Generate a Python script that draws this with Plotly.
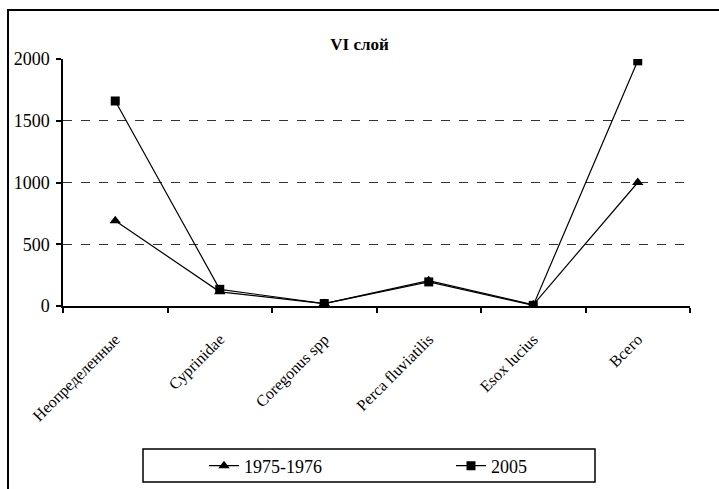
import plotly.graph_objects as go

categories = ["Неопределенные", "Cyprinidae", "Coregonus spp", "Perca fluviatilis", "Esox lucius", "Всего"]
series_1975 = [690, 115, 20, 205, 10, 1000]
series_2005 = [1660, 135, 20, 195, 5, 1985]
y_ticks = [0, 500, 1000, 1500, 2000]
grid_vals = [500, 1000, 1500]

FONT = "Liberation Serif"

fig = go.Figure()
fig.add_trace(go.Scatter(
    x=categories, y=series_1975, name="1975-1976", mode="lines+markers",
    line=dict(color="black", width=1.2), legend="legend",
    marker=dict(symbol="triangle-up", size=10, color="black"),
))
fig.add_trace(go.Scatter(
    x=categories, y=series_2005, name="2005", mode="lines+markers",
    line=dict(color="black", width=1.2), legend="legend2",
    marker=dict(symbol="square", size=9, color="black"),
))
# invisible trace to carry gridlines axis
fig.add_trace(go.Scatter(x=[categories[0]], y=[0], yaxis="y2", showlegend=False,
                         mode="markers", marker=dict(opacity=0), hoverinfo="skip"))

legend_common = dict(
    orientation="h", xref="container", yref="container", xanchor="left",
    y=1 - 466 / 489, yanchor="middle", bgcolor="rgba(0,0,0,0)",
    font=dict(family=FONT, size=18, color="black"),
)

fig.update_layout(
    width=719, height=489,
    margin=dict(l=63, r=29, t=59, b=183, autoexpand=False),
    paper_bgcolor="white", plot_bgcolor="white",
    font=dict(family=FONT, size=16, color="black"),
    title=dict(text="<b>VI слой</b>", x=0.5, xanchor="center", y=1 - 44 / 489,
               yanchor="middle", font=dict(family=FONT, size=17, color="black")),
    xaxis=dict(
        type="category", range=[-0.5, 5.5], tickson="boundaries", automargin=False,
        ticks="outside", ticklen=5, tickcolor="black", tickwidth=1.5,
        showline=True, linecolor="black", linewidth=1.5, showgrid=False,
        tickangle=-45, ticklabelstandoff=16,
        tickfont=dict(family=FONT, size=16, color="black"),
    ),
    yaxis=dict(
        range=[0, 2000], tickvals=y_ticks, ticks="outside", ticklen=5, automargin=False,
        tickcolor="black", tickwidth=1.5, showline=True, linecolor="black",
        linewidth=1.5, showgrid=False, zeroline=False, ticklabelstandoff=3,
        tickfont=dict(family=FONT, size=18, color="black"),
    ),
    yaxis2=dict(
        range=[0, 2000], overlaying="y", tickvals=grid_vals, showticklabels=False,
        showgrid=True, gridcolor="#333333", gridwidth=1, griddash="dash",
        zeroline=False, showline=False, ticks="", automargin=False,
    ),
    legend=dict(x=204 / 719, **legend_common),
    legend2=dict(x=451 / 719, **legend_common),
    shapes=[
        dict(type="rect", xref="paper", yref="paper",
             x0=(8 - 63) / 627, x1=(730 - 63) / 627,
             y0=(306 - 495) / 247, y1=(306 - 10) / 247,
             line=dict(color="black", width=2), layer="below"),
        dict(type="rect", xref="paper", yref="paper",
             x0=(143 - 63) / 627, x1=(595 - 63) / 627,
             y0=(306 - 482) / 247, y1=(306 - 449) / 247,
             line=dict(color="black", width=1.5), layer="below"),
    ],
)

fig.write_html("out.html")
